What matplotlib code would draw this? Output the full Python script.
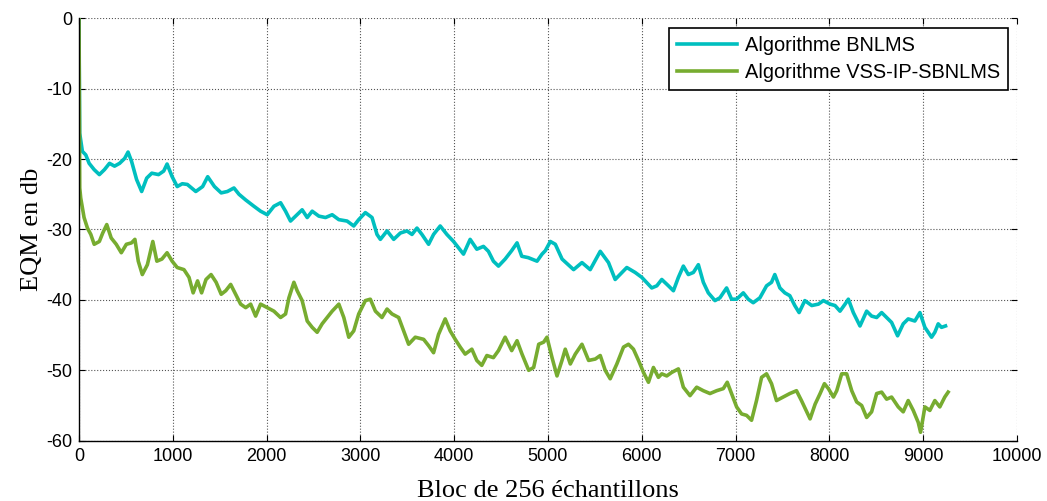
import matplotlib
matplotlib.use("Agg")
import matplotlib.pyplot as plt

plt.rcParams['axes.unicode_minus'] = False

# courbe BNLMS
x_b = [0, 7, 36, 72, 108, 162, 217, 271, 325, 379, 433, 487, 523, 560, 614, 668, 722, 776, 848, 903,
       939, 993, 1047, 1101, 1155, 1245, 1318, 1372, 1444, 1516, 1582, 1652, 1706, 1777, 1865, 1936,
       2007, 2078, 2149, 2202, 2255, 2309, 2379, 2433, 2486, 2557, 2628, 2699, 2770, 2858, 2929, 2982,
       3053, 3124, 3177, 3213, 3284, 3355, 3426, 3496, 3550, 3603, 3656, 3727, 3780, 3851, 3922, 3993,
       4046, 4099, 4170, 4241, 4312, 4365, 4418, 4472, 4543, 4613, 4670, 4720, 4790, 4883, 4936, 4972,
       5025, 5078, 5150, 5273, 5362, 5450, 5557, 5645, 5716, 5840, 5929, 6000, 6106, 6160, 6213, 6284,
       6337, 6390, 6443, 6496, 6550, 6603, 6656, 6709, 6780, 6833, 6904, 6957, 7011, 7082, 7135, 7188,
       7259, 7330, 7383, 7418, 7472, 7525, 7578, 7631, 7677, 7738, 7812, 7883, 7936, 8007, 8060, 8113,
       8167, 8202, 8255, 8326, 8397, 8450, 8504, 8557, 8610, 8663, 8727, 8787, 8840, 8911, 8965, 9018,
       9089, 9124, 9160, 9195, 9238]
y_b = [0, -16.3, -18.9, -19.4, -20.6, -21.5, -22.2, -21.5, -20.6, -21.0, -20.6, -19.9, -19.0, -20.3,
       -22.9, -24.6, -22.7, -22.0, -22.2, -21.7, -20.7, -22.5, -23.9, -23.5, -23.6, -24.6, -23.9, -22.5,
       -23.9, -24.8, -24.6, -24.1, -25.0, -25.8, -26.7, -27.4, -27.9, -26.7, -26.2, -27.4, -28.8, -28.1,
       -27.2, -28.3, -27.4, -28.1, -28.3, -27.9, -28.6, -28.8, -29.5, -28.6, -27.6, -28.3, -30.7, -31.4,
       -30.2, -31.4, -30.5, -30.2, -30.7, -29.8, -30.7, -32.1, -30.7, -29.5, -30.7, -31.7, -32.6, -33.5,
       -31.4, -32.8, -32.4, -33.1, -34.5, -35.2, -34.2, -33.0, -31.9, -33.8, -34.0, -34.5, -33.5, -33.0,
       -31.7, -32.1, -34.2, -35.7, -34.7, -35.7, -33.1, -34.7, -37.1, -35.4, -36.1, -36.8, -38.3, -38.0,
       -37.1, -38.0, -38.7, -36.8, -35.2, -36.4, -36.1, -35.0, -37.5, -39.0, -40.1, -39.7, -38.3, -39.9,
       -39.9, -39.0, -39.9, -40.4, -39.7, -38.0, -37.5, -36.4, -38.3, -39.0, -39.4, -40.8, -41.8, -40.1,
       -40.8, -40.6, -40.1, -40.6, -40.8, -41.6, -40.6, -39.9, -41.8, -43.7, -41.6, -42.3, -42.5, -41.8,
       -42.5, -43.2, -45.1, -43.4, -42.7, -43.0, -41.8, -43.9, -45.3, -44.6, -43.4, -43.9, -43.7]

# courbe VSS-IP-SBNLMS
x_g = [0, 8, 18, 54, 90, 126, 162, 217, 253, 296, 343, 397, 451, 505, 560, 596, 632, 675, 729, 787,
       830, 884, 939, 993, 1047, 1119, 1173, 1217, 1264, 1307, 1354, 1408, 1462, 1516, 1564, 1617, 1670,
       1723, 1777, 1830, 1883, 1936, 2007, 2078, 2149, 2202, 2238, 2291, 2326, 2379, 2433, 2486, 2539,
       2592, 2645, 2699, 2770, 2823, 2876, 2929, 2982, 3053, 3106, 3160, 3230, 3284, 3337, 3408, 3461,
       3514, 3585, 3674, 3727, 3780, 3833, 3904, 3957, 4011, 4064, 4117, 4188, 4241, 4294, 4348, 4418,
       4472, 4543, 4613, 4670, 4723, 4794, 4847, 4901, 4954, 4989, 5043, 5096, 5149, 5184, 5238, 5291,
       5362, 5433, 5504, 5557, 5610, 5663, 5734, 5805, 5858, 5911, 5965, 6018, 6071, 6124, 6177, 6213,
       6266, 6319, 6390, 6443, 6514, 6585, 6656, 6727, 6798, 6869, 6911, 6957, 7011, 7064, 7117, 7170,
       7223, 7277, 7330, 7383, 7436, 7507, 7578, 7649, 7702, 7759, 7794, 7848, 7901, 7947, 7989, 8043,
       8078, 8131, 8184, 8238, 8291, 8344, 8397, 8450, 8504, 8557, 8610, 8663, 8734, 8787, 8840, 8894,
       8947, 8972, 9018, 9071, 9124, 9177, 9230, 9266]
y_g = [0, -24.1, -25.5, -28.3, -29.8, -30.7, -32.1, -31.7, -30.5, -29.3, -31.2, -32.1, -33.3, -32.1,
       -31.9, -31.4, -34.5, -36.4, -35.0, -31.7, -34.5, -34.2, -33.3, -34.5, -35.4, -35.7, -36.8, -39.0,
       -37.3, -39.0, -37.1, -36.4, -37.5, -39.2, -38.7, -37.8, -39.2, -40.6, -41.1, -40.6, -42.3, -40.6,
       -41.1, -41.6, -42.5, -42.0, -39.7, -37.5, -38.7, -40.1, -43.0, -43.9, -44.6, -43.4, -42.5, -41.6,
       -40.6, -42.5, -45.3, -44.4, -42.0, -40.1, -39.9, -41.6, -42.5, -41.3, -42.0, -42.5, -44.4, -46.3,
       -45.3, -45.6, -46.5, -47.5, -44.9, -42.7, -44.4, -45.6, -46.7, -47.7, -47.0, -48.6, -49.3, -47.9,
       -48.2, -47.2, -45.3, -47.2, -45.8, -47.7, -50.0, -49.6, -46.3, -46.0, -45.3, -48.2, -50.8, -48.6,
       -47.0, -49.1, -47.7, -46.3, -48.6, -48.4, -47.9, -50.0, -51.2, -49.1, -46.7, -46.3, -47.0, -48.6,
       -50.3, -51.7, -49.6, -51.0, -50.5, -50.8, -50.3, -49.8, -52.4, -53.6, -52.4, -52.9, -53.3, -52.9,
       -52.6, -51.7, -53.3, -55.2, -56.2, -56.4, -57.1, -54.3, -51.0, -50.5, -51.9, -54.3, -53.8, -53.3,
       -52.9, -54.3, -55.9, -56.9, -54.8, -53.3, -51.9, -52.6, -53.8, -52.9, -50.5, -50.5, -52.9, -54.5,
       -55.0, -56.7, -55.9, -53.3, -53.1, -54.1, -53.8, -55.2, -55.9, -54.3, -55.7, -57.4, -58.8, -55.2,
       -55.7, -54.3, -55.2, -53.8, -53.1]

labels = ['Algorithme BNLMS', 'Algorithme VSS-IP-SBNLMS']
x_ticks = [0, 1000, 2000, 3000, 4000, 5000, 6000, 7000, 8000, 9000, 10000]
y_ticks = [-60, -50, -40, -30, -20, -10, 0]

fig = plt.figure(figsize=(10.47, 5.01), dpi=100)
ax = fig.add_axes([79 / 1047, 1 - 440.7 / 501, 938 / 1047, 422.4 / 501])

ax.plot(x_b, y_b, color='#00BFBF', lw=2.6, label=labels[0])
ax.plot(x_g, y_g, color='#77AC30', lw=2.6, label=labels[1])

ax.set_xlim(0, 10000)
ax.set_ylim(-60, 0)
ax.set_xticks(x_ticks)
ax.set_yticks(y_ticks)
ax.grid(True, linestyle=':', color='#555555', linewidth=0.8)
ax.tick_params(direction='in', top=True, right=True, length=4, width=0.8,
               labelsize=13, pad=5)
for t in ax.get_xticklabels() + ax.get_yticklabels():
    t.set_fontfamily('Liberation Sans')
ax.spines['top'].set_visible(False)
ax.spines['right'].set_visible(False)
ax.spines['left'].set_linewidth(1)
ax.spines['bottom'].set_linewidth(1)

ax.set_xlabel('Bloc de 256 échantillons', fontfamily='Liberation Serif', fontsize=19, labelpad=11)
ax.set_ylabel('EQM en db', fontfamily='Liberation Serif', fontsize=19, labelpad=2)

leg = ax.legend(loc='upper right', bbox_to_anchor=(1008 / 1047, 1 - 28 / 501),
                bbox_transform=fig.transFigure, borderaxespad=0, fancybox=False,
                edgecolor='black', framealpha=1, handlelength=3, handletextpad=0.4,
                labelspacing=0.4, borderpad=0.4,
                prop={'family': 'Liberation Sans', 'size': 14.4})
leg.get_frame().set_linewidth(1.2)

fig.savefig('out.png', dpi=100)
